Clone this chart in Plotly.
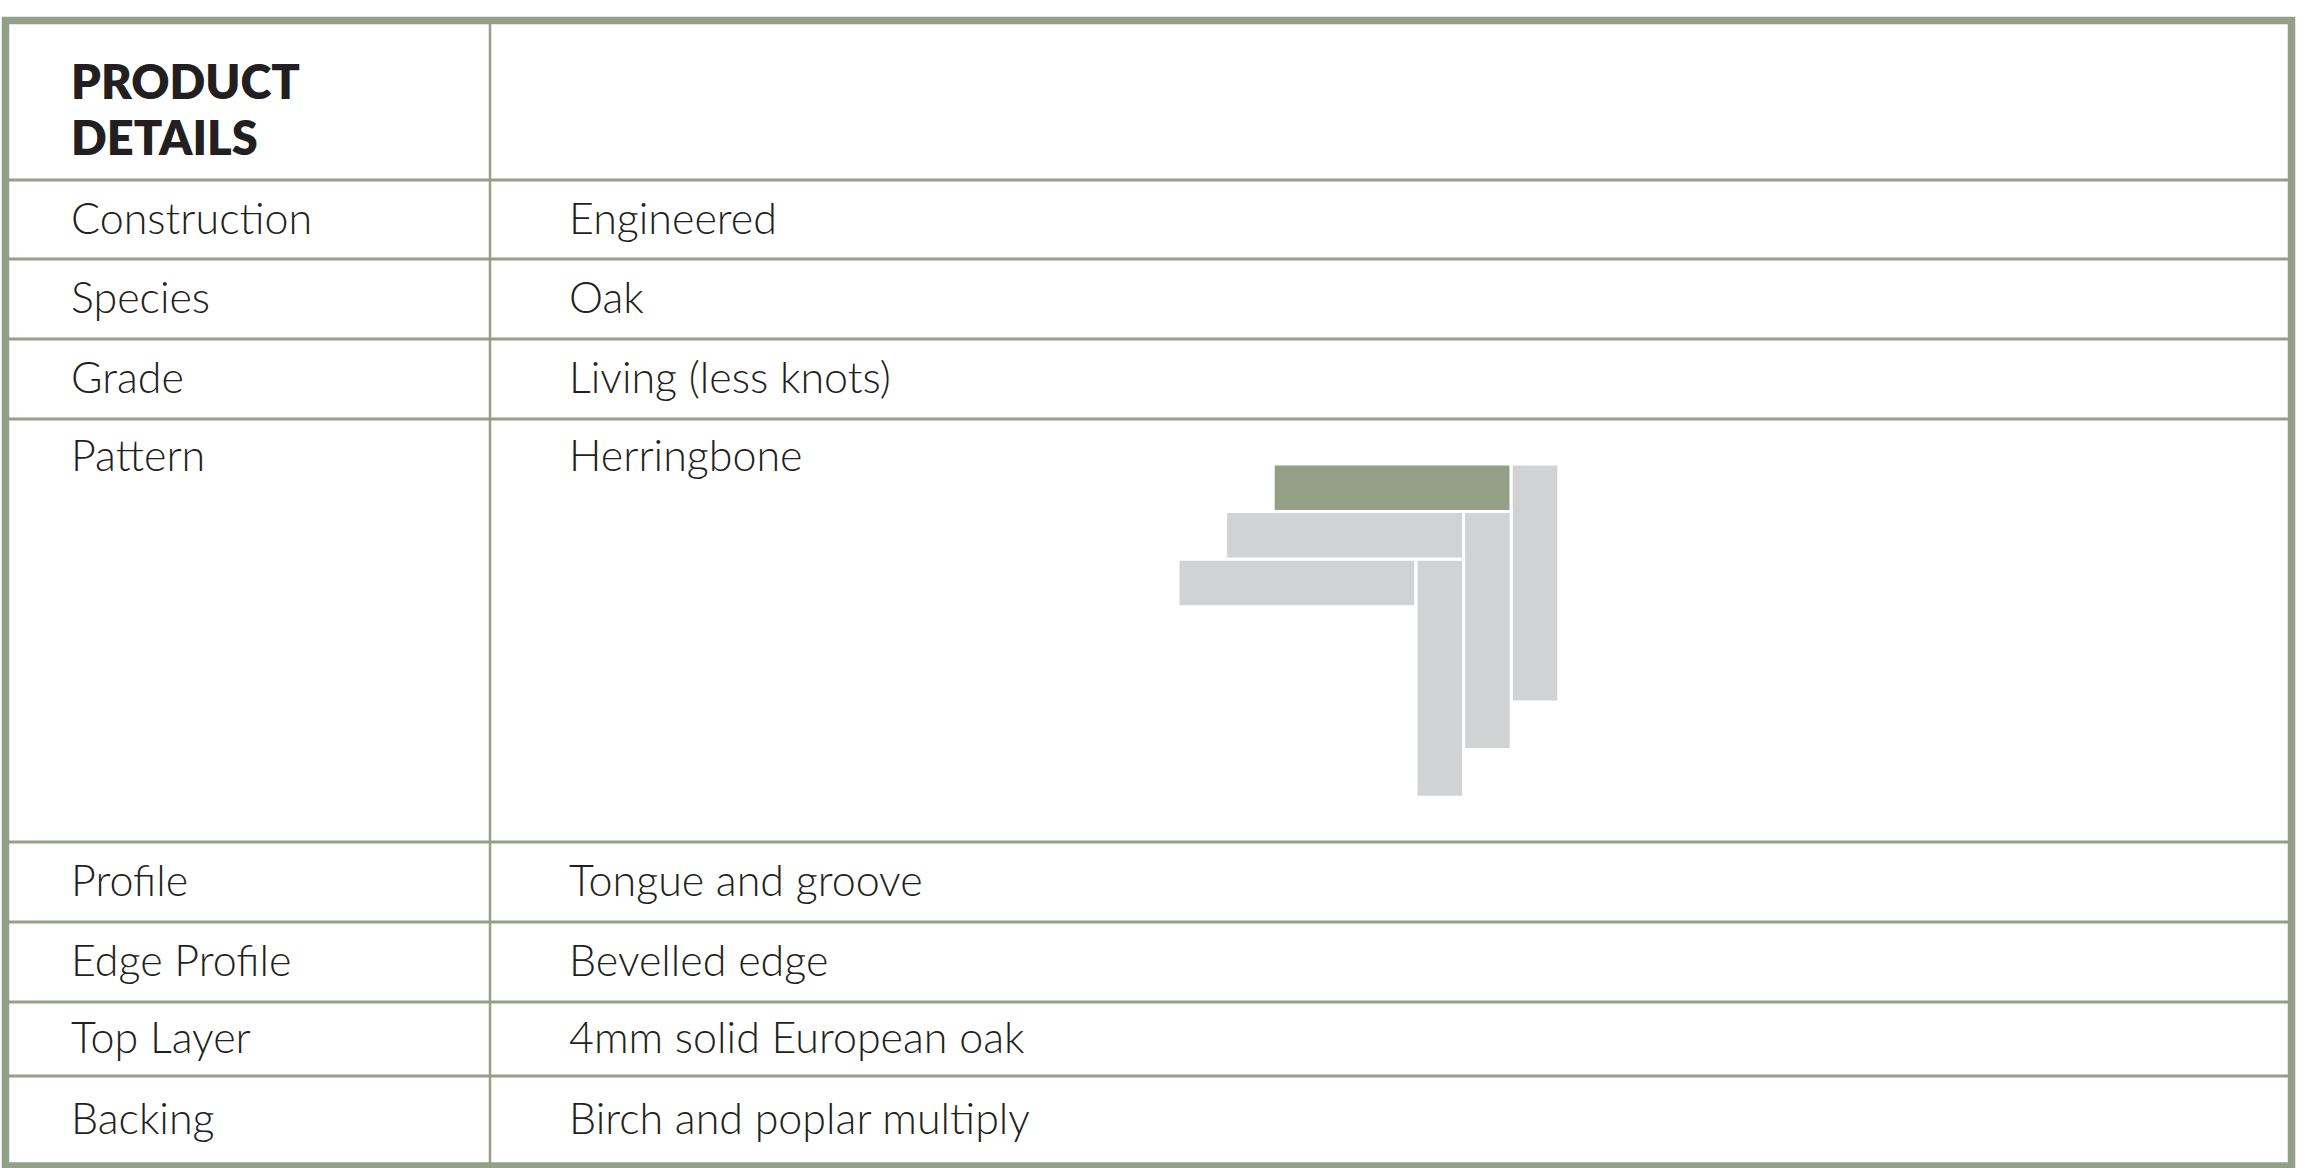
import plotly.graph_objects as go

# ---------------- data ----------------
header_lines = ["PRODUCT", "DETAILS"]
labels = ["Construction", "Species", "Grade", "Pattern", "Profile",
          "Edge Profile", "Top Layer", "Backing"]
values = ["Engineered", "Oak", "Living (less knots)", "Herringbone",
          "Tongue and groove", "Bevelled edge", "4mm solid European oak",
          "Birch and poplar multiply"]
# herringbone illustration: plank indices
h_planks = [0, 1, 2]          # horizontal planks, stepping down-left
v_planks = [0, 1, 2]          # vertical planks, stepping down-left
highlight = "h0"

# ---------------- layout constants ----------------
W, H = 2316, 1168
BORDER = "#939f86"
TEXT = "#231f20"
PLANK_GREY = "#d1d2d4"
PLANK_GREEN = "#939f86"

row_edges = [180, 259, 339, 419, 842, 922, 1002, 1076, 1164]
tall_row = 3                  # index of the row whose text is top-aligned
top_edge = 20.5
left_x, right_x = 5.5, 2291.5
bottom_y = 1166
col_div = 490
col1_x, col2_x = 71, 569
FS_BODY, FS_HEAD = 43, 47
header_baselines = [98.5, 155]

HB_X0, HB_Y0, HB_U = 1178, 464, 47.6
PLANK_LEN = 5

fig = go.Figure()

# text: header
fig.add_trace(go.Scatter(
    x=[col1_x] * len(header_lines),
    y=[b - 0.25 * FS_HEAD for b in header_baselines],
    text=header_lines, mode="text", textposition="middle right",
    textfont=dict(family="Lato", size=FS_HEAD, color=TEXT, weight=800),
    hoverinfo="skip", showlegend=False))

# vertical centre of the capitals in each row
cap_centres = []
for k in range(len(labels)):
    top, bot = row_edges[k], row_edges[k + 1]
    if k == tall_row:
        cap_centres.append(top + 37)
    else:
        cap_centres.append((top + bot) / 2 - 1)
ys = [c + 0.108 * FS_BODY for c in cap_centres]

for xs, txt in ((col1_x, labels), (col2_x, values)):
    fig.add_trace(go.Scatter(
        x=[xs] * len(txt), y=ys, text=txt, mode="text",
        textposition="middle right",
        textfont=dict(family="Lato", size=FS_BODY, color=TEXT, weight=300),
        hoverinfo="skip", showlegend=False))

shapes = []
# herringbone planks
for i in h_planks:
    shapes.append(dict(
        type="rect", xref="x", yref="y",
        x0=HB_X0 + (2 - i) * HB_U, x1=HB_X0 + (2 - i + PLANK_LEN) * HB_U,
        y0=HB_Y0 + i * HB_U, y1=HB_Y0 + (i + 1) * HB_U,
        fillcolor=PLANK_GREEN if f"h{i}" == highlight else PLANK_GREY,
        line=dict(color="white", width=3), layer="above"))
for j in v_planks:
    shapes.append(dict(
        type="rect", xref="x", yref="y",
        x0=HB_X0 + (7 - j) * HB_U, x1=HB_X0 + (8 - j) * HB_U,
        y0=HB_Y0 + j * HB_U, y1=HB_Y0 + (j + PLANK_LEN) * HB_U,
        fillcolor=PLANK_GREEN if f"v{j}" == highlight else PLANK_GREY,
        line=dict(color="white", width=3), layer="above"))

# grid lines
for y in row_edges[:-1]:
    shapes.append(dict(type="line", xref="x", yref="y", x0=left_x, x1=right_x,
                       y0=y, y1=y, line=dict(color=BORDER, width=3)))
shapes.append(dict(type="line", xref="x", yref="y", x0=col_div, x1=col_div,
                   y0=top_edge, y1=bottom_y, line=dict(color=BORDER, width=2.5)))
# outer border
shapes.append(dict(type="rect", xref="x", yref="y", x0=left_x, x1=right_x,
                   y0=top_edge, y1=bottom_y, line=dict(color=BORDER, width=7.5)))

fig.update_layout(
    width=W, height=H, margin=dict(l=0, r=0, t=0, b=0),
    paper_bgcolor="white", plot_bgcolor="white",
    xaxis=dict(range=[0, W], visible=False, fixedrange=True),
    yaxis=dict(range=[H, 0], visible=False, fixedrange=True),
    shapes=shapes, showlegend=False)

fig.write_html("out.html", config={"displayModeBar": False},
               post_script="document.body.style.margin='0';document.body.style.overflow='hidden';")
